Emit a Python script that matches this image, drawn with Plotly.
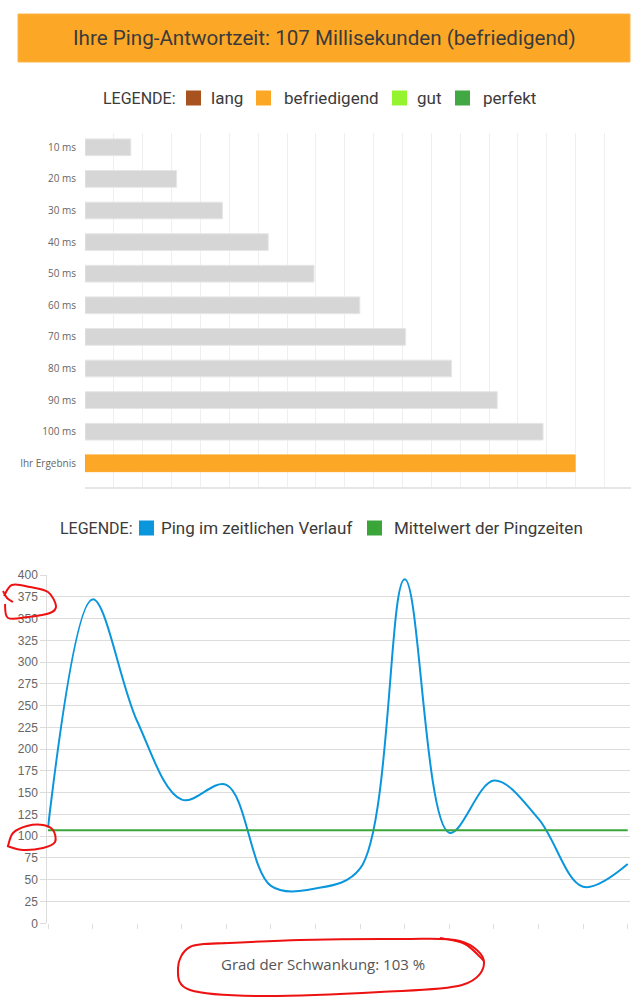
import plotly.graph_objects as go

W, H = 640, 999

# ---------------- data ----------------
bar_labels = ["10 ms", "20 ms", "30 ms", "40 ms", "50 ms", "60 ms",
              "70 ms", "80 ms", "90 ms", "100 ms", "Ihr Ergebnis"]
bar_values = [10, 20, 30, 40, 50, 60, 70, 80, 90, 100, 107]
result_ms = 107
result_class = "befriedigend"

legend1_labels = ["lang", "befriedigend", "gut", "perfekt"]
legend1_colors = ["#A8531F", "#FDA726", "#95F42F", "#42A843"]

ping_values = [110, 372, 232, 142, 159, 43, 40, 63, 395, 104, 164, 120, 42, 68]
mean_ping = 107
legend2_labels = ["Ping im zeitlichen Verlauf", "Mittelwert der Pingzeiten"]
legend2_colors = ["#0A96DC", "#3AA63A"]
y_ticks = list(range(0, 401, 25))
fluctuation_pct = 103

# ---------------- styling helpers ----------------
COND = "Roboto, Liberation Sans, sans-serif"
DARK = "#3b3b3b"
ORANGE = "#FDA726"
GRAY_BAR = "#D6D6D6"


def px(x):
    return x / W


def py(y):
    return 1 - y / H


fig = go.Figure()

# ---------------- bar chart ----------------
bar_colors = [GRAY_BAR] * (len(bar_values) - 1) + [ORANGE]
bar_lines = ["#E6E6E6"] * (len(bar_values) - 1) + [ORANGE]
fig.add_trace(go.Bar(
    x=bar_values, y=bar_labels, orientation="h",
    marker=dict(color=bar_colors, line=dict(color=bar_lines, width=1)),
    width=0.53, xaxis="x", yaxis="y", hoverinfo="skip",
))

# ---------------- line chart ----------------
xs = list(range(len(ping_values)))
fig.add_trace(go.Scatter(
    x=xs, y=ping_values, mode="lines",
    line=dict(color=legend2_colors[0], width=2, shape="spline", smoothing=1.0),
    xaxis="x2", yaxis="y2", hoverinfo="skip",
))
fig.add_trace(go.Scatter(
    x=xs, y=[mean_ping] * len(xs), mode="lines",
    line=dict(color=legend2_colors[1], width=2),
    xaxis="x2", yaxis="y2", hoverinfo="skip",
))

n = len(ping_values)
step_px = (627.7 - 48.0) / (n - 1)
X1_MAX = 119.2

fig.update_layout(
    width=W, height=H, autosize=False,
    margin=dict(l=0, r=0, t=0, b=0, pad=0),
    paper_bgcolor="white", plot_bgcolor="white",
    showlegend=False,
    xaxis=dict(
        domain=[px(85), px(631)], range=[0, X1_MAX], tick0=0, dtick=6.3,
        showticklabels=False, showgrid=True, gridcolor="#EFEFEF", gridwidth=1,
        zeroline=False, showline=True, linecolor="#E6E6E6", linewidth=2,
        ticks="", anchor="y", fixedrange=True, automargin=False,
    ),
    yaxis=dict(
        domain=[py(486.7), py(133.3)], type="category",
        range=[10 + 23.4 / 31.6, -14 / 31.6],
        showgrid=False, zeroline=False, showline=False, ticks="",
        tickfont=dict(family="Open Sans, sans-serif", size=10, color="#666"),
        ticklabelstandoff=8, anchor="x", fixedrange=True, automargin=False,
    ),
    xaxis2=dict(
        domain=[px(47.3), px(630)],
        range=[-0.7 / step_px, (n - 1) + 2.3 / step_px],
        tickvals=xs, ticks="outside", ticklen=5, tickcolor="#DDDDDD",
        showticklabels=False, showgrid=False, zeroline=False, showline=False,
        anchor="y2", fixedrange=True, automargin=False,
    ),
    yaxis2=dict(
        domain=[py(923.3), py(575)], range=[0, 400], tickvals=y_ticks,
        showgrid=True, gridcolor="#DCDCDC", gridwidth=1,
        ticks="outside", ticklen=6, tickcolor="#DCDCDC",
        showline=True, linecolor="#DCDCDC", linewidth=1, zeroline=False,
        tickfont=dict(family="Liberation Sans, Arial, sans-serif", size=12, color="#666"),
        anchor="x2", fixedrange=True, automargin=False,
    ),
)

shapes = []
annotations = []

# title banner
shapes.append(dict(type="rect", xref="paper", yref="paper",
                   x0=px(18), x1=px(630), y0=py(62), y1=py(14),
                   fillcolor=ORANGE, line=dict(color="#FBB54A", width=1), layer="below"))
annotations.append(dict(
    text=f"Ihre Ping-Antwortzeit: {result_ms} Millisekunden ({result_class})",
    x=px(324), y=py(38.5), xref="paper", yref="paper", showarrow=False,
    xanchor="center", yanchor="middle",
    font=dict(family=COND, size=20.6, color=DARK)))


def legend(ycen, head_x, sw_x, txt_x, labels, colors):
    annotations.append(dict(text="LEGENDE:", x=px(head_x), y=py(ycen), xref="paper", yref="paper",
                            showarrow=False, xanchor="left", yanchor="middle",
                            font=dict(family=COND, size=16, color=DARK)))
    for sx, tx, lab, col in zip(sw_x, txt_x, labels, colors):
        shapes.append(dict(type="rect", xref="paper", yref="paper",
                           x0=px(sx), x1=px(sx + 15), y0=py(ycen + 7.5), y1=py(ycen - 7.5),
                           fillcolor=col, line=dict(width=0)))
        annotations.append(dict(text=lab, x=px(tx), y=py(ycen), xref="paper", yref="paper",
                                showarrow=False, xanchor="left", yanchor="middle",
                                font=dict(family=COND, size=17, color=DARK)))


legend(98, 101, [186, 256, 392, 455], [209, 282, 415, 481], legend1_labels, legend1_colors)
legend(528, 58, [139, 367], [159, 392], legend2_labels, legend2_colors)

# bottom text
annotations.append(dict(
    text=f"Grad der Schwankung: {fluctuation_pct} %",
    x=px(323), y=py(964), xref="paper", yref="paper", showarrow=False,
    xanchor="center", yanchor="middle",
    font=dict(family="Open Sans, sans-serif", size=15, color="#555")))


# hand-drawn red marks (decoration, pixel outline points)
def smooth_path(pts, closed=True):
    P = [(px(x), py(y)) for x, y in pts]
    m = len(P)
    d = f"M {P[0][0]:.5f},{P[0][1]:.5f}"
    rng = range(m) if closed else range(m - 1)
    for i in rng:
        p0 = P[i - 1] if (closed or i > 0) else P[i]
        p1 = P[i]
        p2 = P[(i + 1) % m]
        p3 = P[(i + 2) % m] if (closed or i + 2 < m) else p2
        c1 = (p1[0] + (p2[0] - p0[0]) / 6, p1[1] + (p2[1] - p0[1]) / 6)
        c2 = (p2[0] - (p3[0] - p1[0]) / 6, p2[1] - (p3[1] - p1[1]) / 6)
        d += f" C {c1[0]:.5f},{c1[1]:.5f} {c2[0]:.5f},{c2[1]:.5f} {p2[0]:.5f},{p2[1]:.5f}"
    return d


RED = "#EE1111"
red_marks = [
    ([(4, 596), (12, 585), (30, 587), (48, 592), (56, 606), (50, 613), (28, 617), (8, 618), (5, 604)], False),
    ([(3, 591), (7, 598), (13, 602)], False),
    ([(8, 846), (13, 833), (27, 826), (43, 825), (53, 830), (55, 842), (43, 848), (23, 850), (7, 846)], False),
    ([(205, 944), (300, 940), (400, 939), (460, 941), (484, 962), (462, 985), (380, 992),
      (260, 996), (190, 990), (178, 968), (190, 947), (225, 943)], False),
    ([(440, 938), (465, 944), (484, 961)], False),
]
for pts, closed in red_marks:
    shapes.append(dict(type="path", xref="paper", yref="paper", path=smooth_path(pts, closed),
                       line=dict(color=RED, width=2)))

fig.update_layout(shapes=shapes, annotations=annotations)
fig.write_html("out.html",
               config={"displayModeBar": False, "staticPlot": True},
               post_script="document.body.style.margin='0';document.body.style.padding='0';")
